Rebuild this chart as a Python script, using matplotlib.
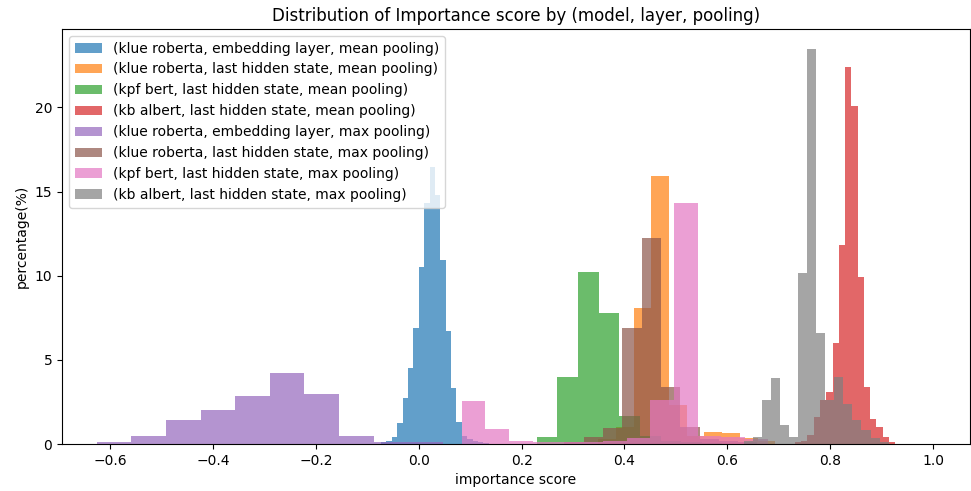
import numpy as np
import matplotlib.pyplot as plt

# ===================== data =====================
labels = [
    "(klue roberta, embedding layer, mean pooling)",
    "(klue roberta, last hidden state, mean pooling)",
    "(kpf bert, last hidden state, mean pooling)",
    "(kb albert, last hidden state, mean pooling)",
    "(klue roberta, embedding layer, max pooling)",
    "(klue roberta, last hidden state, max pooling)",
    "(kpf bert, last hidden state, max pooling)",
    "(kb albert, last hidden state, max pooling)",
]

# each series: first bin edge, last bin edge, bar heights (density, %)
emb_mean_lo, emb_mean_hi = -0.0735, 0.136
emb_mean_h = [0.1, 0.18, 0.4, 1.23, 2.72, 4.5, 6.87, 10.53, 14.3, 16.48,
              14.8, 10.93, 6.73, 3.31, 1.29, 0.45, 0.3, 0.15, 0.1, 0.05]

rob_mean_lo, rob_mean_hi = 0.3488, 0.6932
rob_mean_h = [0.3, 1.0, 8.07, 15.9, 2.3, 0.5, 0.73, 0.67, 0.34, 0.15]

kpf_mean_lo, kpf_mean_hi = 0.2296, 0.6306
kpf_mean_h = [0.43, 3.96, 10.24, 7.77, 1.66, 0.5, 0.2, 0.1, 0.05, 0.02]

alb_mean_lo, alb_mean_hi = 0.7314, 0.9266
alb_mean_h = [0.1, 0.2, 0.53, 1.6, 2.6, 3.1, 6.02, 11.82, 22.42, 20.1,
              9.94, 3.4, 1.49, 0.99, 0.4, 0.14]

emb_max_lo, emb_max_hi = -0.6265, 0.0465
emb_max_h = [0.14, 0.48, 1.43, 2.02, 2.85, 4.2, 2.97, 0.48, 0.1, 0.1]

rob_max_lo, rob_max_hi = 0.2827, 0.6587
rob_max_h = [0.1, 0.43, 0.97, 6.87, 12.26, 3.4, 1.0, 0.3, 0.15, 0.1]

kpf_max_lo, kpf_max_hi = 0.0838, 0.6797
kpf_max_h = [2.57, 0.91, 0.15, 0.12, 0.1, 0.12, 0.2, 0.35, 2.6, 14.3,
             0.45, 0.4, 0.3]

alb_max_lo, alb_max_hi = 0.632, 0.9138
alb_max_h = [0.15, 0.4, 2.6, 3.9, 1.13, 0.4, 10.14, 23.5, 6.57, 2.6,
             4.0, 2.4, 1.43, 0.83, 0.36, 0.1]

series = [
    (emb_mean_lo, emb_mean_hi, emb_mean_h),
    (rob_mean_lo, rob_mean_hi, rob_mean_h),
    (kpf_mean_lo, kpf_mean_hi, kpf_mean_h),
    (alb_mean_lo, alb_mean_hi, alb_mean_h),
    (emb_max_lo, emb_max_hi, emb_max_h),
    (rob_max_lo, rob_max_hi, rob_max_h),
    (kpf_max_lo, kpf_max_hi, kpf_max_h),
    (alb_max_lo, alb_max_hi, alb_max_h),
]

# ===================== plot =====================
fig, ax = plt.subplots(figsize=(9.71, 4.91), dpi=100)
fig.subplots_adjust(left=62/971, right=970/971, bottom=1-444/491, top=1-29/491)

for (lo, hi, h), lab in zip(series, labels):
    edges = np.linspace(lo, hi, len(h) + 1)
    centers = (edges[:-1] + edges[1:]) / 2
    ax.hist(centers, bins=edges, weights=h, alpha=0.7, label=lab)

ax.set_xlim(-0.694, 1.072)
ax.set_ylim(0, 24.66)
ax.set_xlabel("importance score")
ax.set_ylabel("percentage(%)")
ax.set_title("Distribution of Importance score by (model, layer, pooling)")
ax.legend(loc="upper left")

plt.savefig("out.png", dpi=100)
